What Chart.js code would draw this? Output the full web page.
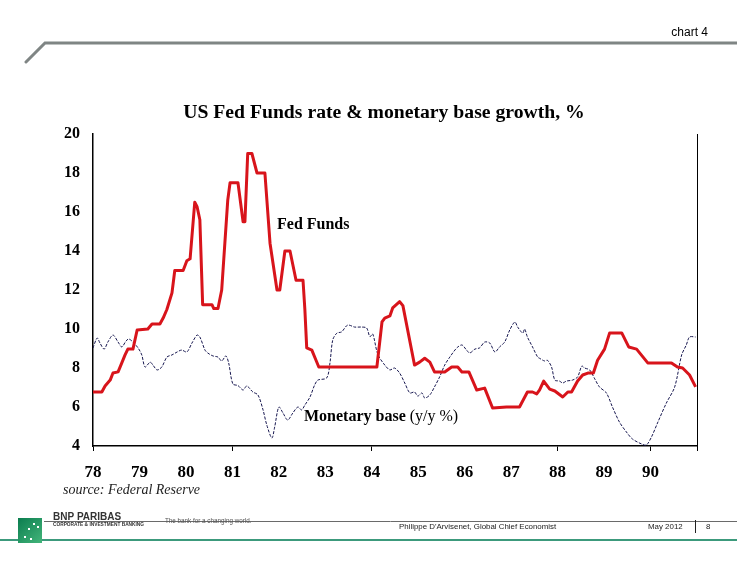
<!DOCTYPE html>
<html>
<head>
<meta charset="utf-8">
<title>US Fed Funds rate & monetary base growth</title>
<script src="https://cdn.jsdelivr.net/npm/chart.js@4"></script>
<style>
    html, body { margin: 0; padding: 0; background: #fff; }
    #chart { display: block; }
</style>
</head>
<body>
<canvas id="chart" width="737" height="567"></canvas>
<script>
// ===== DATA (decimal years) =====
const fedYears = [78.00, 78.19, 78.26, 78.37, 78.43, 78.54, 78.62, 78.69, 78.75, 78.86, 78.95, 79.18,
    79.27, 79.44, 79.51, 79.59, 79.70, 79.76, 79.94, 80.02, 80.09, 80.19, 80.24, 80.30, 80.36, 80.56,
    80.60, 80.69, 80.77, 80.90, 80.95, 81.12, 81.23, 81.27, 81.33, 81.42, 81.53, 81.70, 81.81, 81.96,
    82.02, 82.13, 82.24, 82.37, 82.52, 82.56, 82.60, 82.71, 82.80, 82.86, 84.11, 84.22, 84.28, 84.39,
    84.45, 84.60, 84.67, 84.92, 85.03, 85.14, 85.25, 85.35, 85.57, 85.72, 85.85, 85.94, 86.09, 86.26,
    86.43, 86.60, 86.90, 87.18, 87.35, 87.46, 87.55, 87.61, 87.70, 87.83, 87.94, 88.11, 88.22, 88.30,
    88.43, 88.54, 88.65, 88.77, 88.86, 89.01, 89.12, 89.38, 89.53, 89.70, 89.94, 90.45, 90.58, 90.69,
    90.84, 90.97];
const fedRates = [6.77, 6.77, 7.08, 7.38, 7.74, 7.8, 8.26, 8.67, 8.97, 8.97, 9.95, 10.0,
    10.26, 10.26, 10.56, 11.0, 11.85, 13.0, 13.0, 13.5, 13.6, 16.5, 16.27, 15.6, 11.25, 11.25,
    11.05, 11.05, 12.0, 16.6, 17.5, 17.5, 15.5, 15.5, 19.0, 19.0, 18.0, 18.0, 14.4, 12.0,
    12.0, 14.0, 14.0, 12.5, 12.5, 11.0, 9.03, 8.92, 8.4, 8.05, 8.05, 10.36, 10.56, 10.67,
    11.08, 11.4, 11.2, 8.15, 8.3, 8.5, 8.3, 7.8, 7.8, 8.05, 8.05, 7.8, 7.8, 6.87,
    6.97, 5.95, 6.0, 6.0, 6.77, 6.77, 6.67, 6.87, 7.33, 6.92, 6.82, 6.51, 6.77, 6.77,
    7.33, 7.64, 7.74, 7.74, 8.4, 8.97, 9.8, 9.8, 9.08, 8.97, 8.26, 8.26, 8.05, 8.0,
    7.64, 7.03];

const baseYears = [78.00, 78.09, 78.15, 78.24, 78.32, 78.43, 78.54, 78.62, 78.71, 78.77, 78.86, 78.97,
    79.05, 79.12, 79.23, 79.29, 79.38, 79.48, 79.59, 79.70, 79.81, 79.91, 80.02, 80.13, 80.24, 80.30,
    80.41, 80.47, 80.58, 80.69, 80.77, 80.86, 80.92, 81.01, 81.12, 81.23, 81.31, 81.44, 81.55, 81.66,
    81.74, 81.85, 81.91, 82.00, 82.09, 82.19, 82.30, 82.41, 82.49, 82.56, 82.67, 82.77, 82.84, 83.03,
    83.10, 83.16, 83.25, 83.35, 83.48, 83.63, 83.78, 83.89, 83.96, 84.02, 84.13, 84.28, 84.39, 84.49,
    84.60, 84.71, 84.82, 84.92, 84.99, 85.08, 85.14, 85.25, 85.35, 85.46, 85.57, 85.68, 85.83, 85.94,
    86.04, 86.11, 86.22, 86.32, 86.43, 86.54, 86.65, 86.75, 86.86, 86.97, 87.08, 87.14, 87.25, 87.29,
    87.35, 87.46, 87.57, 87.61, 87.72, 87.78, 87.87, 87.94, 88.04, 88.11, 88.19, 88.32, 88.43, 88.52,
    88.58, 88.69, 88.80, 88.90, 89.05, 89.18, 89.33, 89.48, 89.61, 89.81, 89.91, 90.02, 90.15, 90.34,
    90.52, 90.67, 90.77, 90.84, 90.97];
const baseGrowth = [9.03, 9.54, 9.28, 8.97, 9.33, 9.69, 9.33, 9.08, 9.38, 9.49, 9.33, 9.03,
    8.67, 8.05, 8.3, 8.15, 7.9, 8.05, 8.56, 8.67, 8.82, 8.92, 8.82, 9.28, 9.69, 9.59,
    8.92, 8.77, 8.62, 8.56, 8.36, 8.62, 8.26, 7.18, 7.1, 6.87, 7.08, 6.77, 6.62, 5.85,
    5.08, 4.41, 4.97, 6.0, 5.69, 5.33, 5.69, 6.0, 5.85, 6.1, 6.51, 7.13, 7.38, 7.49,
    8.26, 9.44, 9.79, 9.85, 10.2, 10.1, 10.1, 10.05, 9.6, 9.75, 8.7, 8.15, 7.9, 8.0,
    7.74, 7.23, 6.72, 6.77, 6.56, 6.72, 6.46, 6.62, 7.03, 7.54, 8.15, 8.56, 9.03, 9.18,
    8.92, 8.77, 8.97, 9.03, 9.33, 9.28, 8.82, 9.08, 9.33, 9.95, 10.36, 10.1, 9.79, 10.0,
    9.59, 9.08, 8.56, 8.5, 8.36, 8.4, 8.05, 7.38, 7.33, 7.23, 7.33, 7.38, 7.54, 8.1,
    8.0, 7.9, 7.44, 7.03, 6.72, 6.0, 5.23, 4.72, 4.36, 4.1, 4.05, 4.46, 5.18, 6.2,
    7.03, 8.67, 9.18, 9.59, 9.59];

// axis ranges / tick labels
const xMin = 78, xMax = 91;
const yMin = 4, yMax = 20, yStep = 2;
const xTickMarks = [78, 81, 84, 88, 90, 91];

function toPoints(xs, ys) {
    return xs.map((x, i) => ({ x: x, y: ys[i] }));
}

// ===== TEXT, HEADER & FOOTER =====
const decorPlugin = {
    id: 'decor',
    afterDraw(chart) {
        const ctx = chart.ctx;
        ctx.save();

        // header rule + "chart 4"
        ctx.strokeStyle = '#7f8584';
        ctx.lineWidth = 3;
        ctx.lineCap = 'round';
        ctx.beginPath();
        ctx.moveTo(26, 62);
        ctx.lineTo(45, 43);
        ctx.lineTo(737, 43);
        ctx.stroke();
        ctx.fillStyle = '#000';
        ctx.font = '12px "Liberation Sans", Arial, sans-serif';
        ctx.textAlign = 'right';
        ctx.textBaseline = 'middle';
        ctx.fillText('chart 4', 708, 33);

        // title
        ctx.textAlign = 'center';
        ctx.font = 'bold 19.7px "Liberation Serif", "Times New Roman", serif';
        ctx.fillText('US Fed Funds rate & monetary base growth, %', 384, 113);

        // series labels
        ctx.textAlign = 'left';
        ctx.font = 'bold 16px "Liberation Serif", serif';
        ctx.fillText('Fed Funds', 277, 225);
        const mb = 'Monetary base ';
        ctx.fillText(mb, 304, 417);
        const w = ctx.measureText(mb).width;
        ctx.font = '16px "Liberation Serif", serif';
        ctx.fillText('(y/y %)', 304 + w, 417);

        // source
        ctx.font = 'italic 14px "Liberation Serif", serif';
        ctx.fillStyle = '#222';
        ctx.fillText('source: Federal Reserve', 63, 490);

        // footer rules
        ctx.lineCap = 'butt';
        ctx.strokeStyle = '#6a6a6a';
        ctx.lineWidth = 1;
        ctx.beginPath();
        ctx.moveTo(44, 521.5);
        ctx.lineTo(737, 521.5);
        ctx.stroke();
        ctx.strokeStyle = '#3c9a7c';
        ctx.lineWidth = 2;
        ctx.beginPath();
        ctx.moveTo(0, 540);
        ctx.lineTo(737, 540);
        ctx.stroke();

        // logo square
        const g = ctx.createLinearGradient(18, 518, 42, 543);
        g.addColorStop(0, '#0b7d4f');
        g.addColorStop(1, '#43b57a');
        ctx.fillStyle = g;
        ctx.fillRect(18, 518, 24, 25);
        ctx.fillStyle = '#fff';
        [[33, 523], [37, 526], [28, 528], [24, 536], [30, 538]].forEach(p => {
            ctx.fillRect(p[0], p[1], 2, 2);
        });

        // footer text
        ctx.fillStyle = '#333';
        ctx.font = 'bold 10px "Liberation Sans", Arial, sans-serif';
        ctx.fillText('BNP PARIBAS', 53, 517);
        ctx.font = 'bold 4.8px "Liberation Sans", Arial, sans-serif';
        ctx.fillText('CORPORATE & INVESTMENT BANKING', 53, 524.5);
        ctx.fillStyle = '#555';
        ctx.font = '6.3px "Liberation Sans", Arial, sans-serif';
        ctx.fillText('The bank for a changing world.', 165, 521);
        ctx.fillStyle = '#222';
        ctx.font = '7.9px "Liberation Sans", Arial, sans-serif';
        ctx.fillText("Philippe D'Arvisenet, Global Chief Economist", 399, 527);
        ctx.fillText('May 2012', 648, 527);
        ctx.fillText('8', 706, 527);
        ctx.strokeStyle = '#222';
        ctx.lineWidth = 1;
        ctx.beginPath();
        ctx.moveTo(695.5, 520);
        ctx.lineTo(695.5, 533);
        ctx.stroke();

        ctx.restore();
    }
};

const serif = '"Liberation Serif", "Times New Roman", serif';

new Chart(document.getElementById('chart'), {
    type: 'line',
    data: {
        datasets: [{
            label: 'Fed Funds',
            data: toPoints(fedYears, fedRates),
            borderColor: '#d8141b',
            borderWidth: 3,
            pointRadius: 0,
            tension: 0,
            borderJoinStyle: 'round'
        }, {
            label: 'Monetary base (y/y %)',
            data: toPoints(baseYears, baseGrowth),
            borderColor: '#16164f',
            borderWidth: 1,
            borderDash: [3, 1.5],
            pointRadius: 0,
            tension: 0.3
        }]
    },
    options: {
        responsive: false,
        animation: false,
        layout: { padding: { left: 0, top: 134, right: 40, bottom: 81 } },
        plugins: {
            legend: { display: false },
            tooltip: { enabled: false }
        },
        scales: {
            x: {
                type: 'linear',
                min: xMin,
                max: xMax,
                afterFit: s => { s.height = 40; },
                ticks: {
                    stepSize: 1,
                    autoSkip: false,
                    maxRotation: 0,
                    padding: 11,
                    color: '#000',
                    font: { family: serif, size: 17, weight: 'bold' },
                    callback: v => (v < xMax ? String(v) : '')
                },
                grid: {
                    drawOnChartArea: false,
                    tickLength: 5,
                    color: c => (xTickMarks.includes(c.tick && c.tick.value) ? '#000' : 'rgba(0,0,0,0)')
                },
                border: { display: true, color: '#000', width: 1.5 }
            },
            y: {
                min: yMin,
                max: yMax,
                afterFit: s => { s.width = 93; },
                ticks: {
                    stepSize: yStep,
                    padding: 13,
                    color: '#000',
                    font: { family: serif, size: 16, weight: 'bold' }
                },
                grid: { display: false, drawTicks: false },
                border: { display: true, color: '#000', width: 1.5 }
            },
            y2: {
                position: 'right',
                min: yMin,
                max: yMax,
                afterFit: s => { s.width = 0; },
                ticks: { display: false },
                grid: { display: false },
                border: { display: true, color: '#000', width: 1 }
            }
        }
    },
    plugins: [decorPlugin]
});
</script>
</body>
</html>
